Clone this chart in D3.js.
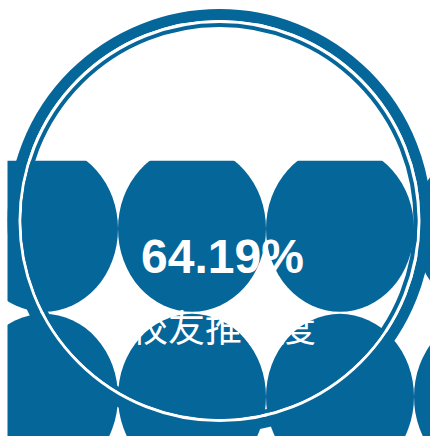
<!DOCTYPE html>
<html><head><meta charset="utf-8">
<script src="https://cdn.jsdelivr.net/npm/d3@7"></script>
<style>html,body{margin:0;padding:0;background:#fff;}svg{display:block;}</style>
</head><body>
<svg id="chart" width="430" height="436"></svg>
<script>
// data
const values = [0.6419];
const labels = ["校友推荐度"];
const valueFormat = d3.format(".2%");

const W = 430, H = 436;
const color = "#05669a";
const cx = 219.5, cy = 221, R = 212;

const svg = d3.select("#chart");
const y = d3.scaleLinear().domain([0, 1]).range([cy + R, cy - R]);
const level = y(values[0]);

const defs = svg.append("defs");
defs.append("clipPath").attr("id", "fillClip")
  .append("rect")
  .attr("x", cx - R).attr("y", level)
  .attr("width", 2 * R).attr("height", H - level);

// fill texture: rows of blobs
const tileW = 148, tileH = 168, rx = 74, ry = 83;
const x0 = cx - 175.5, y0 = level + 68;
const blobs = [];
for (let r = 0; r < 2; r++) for (let c = 0; c < 4; c++) blobs.push({c, r});
const gFill = svg.append("g").attr("clip-path", "url(#fillClip)");
gFill.selectAll("ellipse").data(blobs).join("ellipse")
  .attr("cx", d => x0 + d.c * tileW)
  .attr("cy", d => y0 + d.r * tileH)
  .attr("rx", rx).attr("ry", ry)
  .attr("fill", color);

// ring
svg.append("circle").attr("cx", cx).attr("cy", cy).attr("r", 206.5)
  .attr("fill", "none").attr("stroke", color).attr("stroke-width", 11);
svg.append("circle").attr("cx", cx).attr("cy", cy).attr("r", 199.5)
  .attr("fill", "none").attr("stroke", "#fff").attr("stroke-width", 3);
svg.append("circle").attr("cx", cx).attr("cy", cy).attr("r", 196)
  .attr("fill", "none").attr("stroke", color).attr("stroke-width", 4);

// texts
svg.append("text").attr("x", 222.5).attr("y", 273)
  .attr("text-anchor", "middle")
  .attr("font-family", "'Liberation Sans', Arial, sans-serif")
  .attr("font-weight", "bold").attr("font-size", 48)
  .attr("fill", "#fff").text(valueFormat(values[0]));
svg.append("text").attr("x", 223.5).attr("y", 342)
  .attr("text-anchor", "middle")
  .attr("font-family", "'Noto Sans CJK SC', sans-serif")
  .attr("font-size", 37)
  .attr("fill", "#fff").text(labels[0]);
</script>
</body></html>
